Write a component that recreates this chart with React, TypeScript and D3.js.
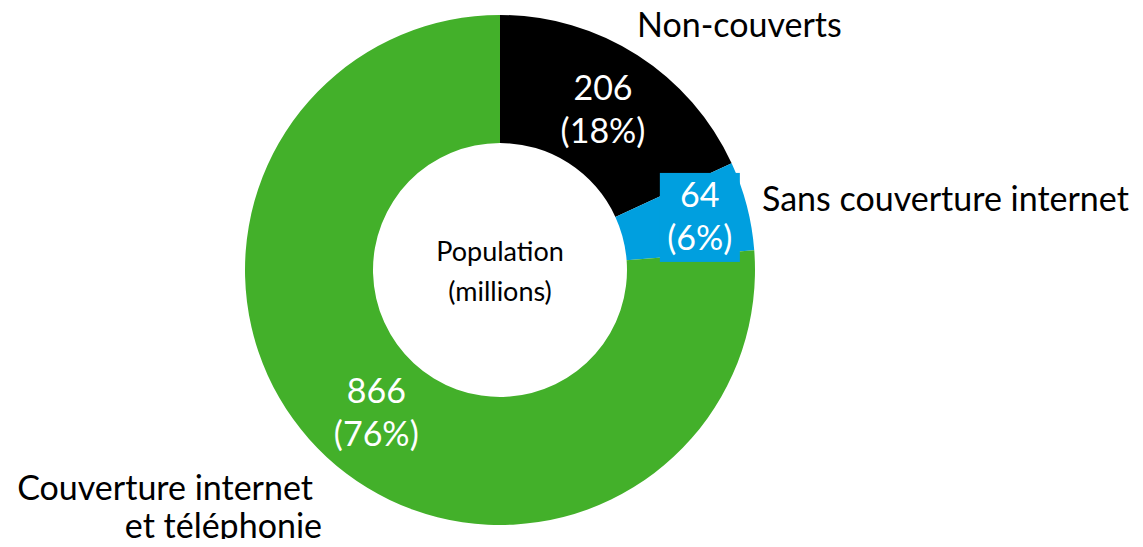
import React from 'react';
import * as d3 from 'd3';

const categories = ['Non-couverts', 'Sans couverture internet', 'Couverture internet et téléphonie'];
const values = [206, 64, 866];
const percentLabels = ['18%', '6%', '76%'];
const colors = ['#000000', '#009FDF', '#43B02A'];

const width = 1143;
const height = 547;
const cx = 500;
const cy = 270;
const outerR = 255;
const innerR = 127;
const font = 'Lato, "Open Sans", sans-serif';

// nudges for the value labels relative to the arc centroid
const labelNudge: [number, number][] = [[0, 2], [15, -4], [6, 4]];

const App: React.FC = () => {
  const pie = d3.pie<number>().sort(null).value(d => d);
  const arcs = pie(values);
  const arc = d3.arc<d3.PieArcDatum<number>>().innerRadius(innerR).outerRadius(outerR);

  return (
    <svg width={width} height={height} style={{ display: 'block', margin: '-8px' }}>
      <g transform={`translate(${cx},${cy})`}>
        {arcs.map((a, i) => (
          <path key={i} d={arc(a) || ''} fill={colors[i]} />
        ))}
        {arcs.map((a, i) => {
          const [x, y] = arc.centroid(a);
          const lx = x + labelNudge[i][0];
          const ly = y + labelNudge[i][1];
          return (
            <g key={'l' + i} fontFamily={font} fontSize={34} fill="#fff" textAnchor="middle">
              {i === 1 && (
                <rect x={lx - 40} y={ly - 45} width={80} height={89} fill={colors[1]} />
              )}
              <text x={lx} y={ly - 11}>{values[i]}</text>
              <text x={lx} y={ly + 32}>({percentLabels[i]})</text>
            </g>
          );
        })}
        <g fontFamily={font} fontSize={27} fill="#000" textAnchor="middle">
          <text x={0} y={-9}>Population</text>
          <text x={0} y={31}>(millions)</text>
        </g>
      </g>
      <g fontFamily={font} fontSize={34} fill="#000">
        <text x={637} y={37}>{categories[0]}</text>
        <text x={762} y={211}>{categories[1]}</text>
        <text x={313} y={500} textAnchor="end">Couverture internet</text>
        <text x={322} y={538} textAnchor="end">et téléphonie</text>
      </g>
    </svg>
  );
};

export default App;
